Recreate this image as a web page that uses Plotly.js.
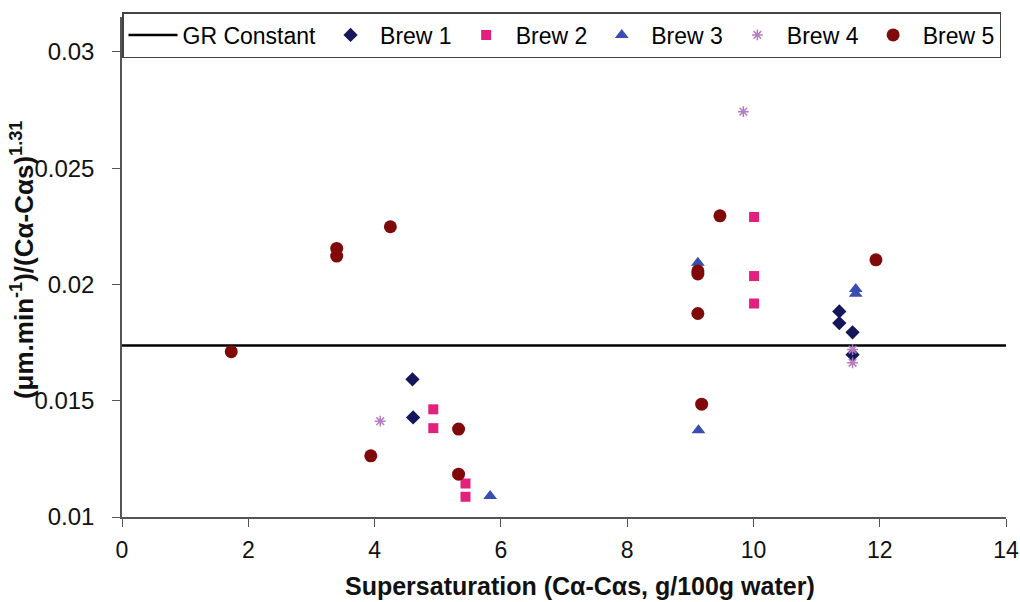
<!DOCTYPE html>
<html>
<head>
<meta charset="utf-8">
<script src="https://cdn.plot.ly/plotly-3.0.1.min.js"></script>
<style>html,body{margin:0;padding:0;background:#fff;}#chart{width:1020px;height:602px;}</style>
</head>
<body>
<div id="chart"></div>
<script>
// GR constant line
const grX = [0, 14];
const grY = [0.01737, 0.01737];

// Brew 1
const brew1X = [4.60, 4.61, 11.36, 11.36, 11.57, 11.57];
const brew1Y = [0.01592, 0.01428, 0.01884, 0.01834, 0.01794, 0.01698];

// Brew 2
const brew2X = [4.93, 4.93, 5.44, 5.44, 10.01, 10.01, 10.01];
const brew2Y = [0.01463, 0.01382, 0.01144, 0.01087, 0.0229, 0.02036, 0.01918];

// Brew 3
const brew3X = [5.83, 9.12, 9.13, 11.62, 11.62];
const brew3Y = [0.0109, 0.02093, 0.01373, 0.0198, 0.0196];

// Brew 4
const brew4X = [4.09, 9.84, 11.57, 11.57];
const brew4Y = [0.01412, 0.02743, 0.0172, 0.01663];

// Brew 5
const brew5X = [1.73, 3.40, 3.40, 4.25, 3.94, 5.33, 5.33, 9.47, 9.12, 9.12, 9.12, 9.18, 11.94];
const brew5Y = [0.01711, 0.02155, 0.02122, 0.02248, 0.01263, 0.01378, 0.01184, 0.02295, 0.02058, 0.02045, 0.01875, 0.01485, 0.02106];

const xTicks = [0, 2, 4, 6, 8, 10, 12, 14];
const yTicks = [0.01, 0.015, 0.02, 0.025, 0.03];
const yTickText = ['0.01', '0.015', '0.02', '0.025', '0.03'];

const xTitle = 'Supersaturation (Cα-Cαs, g/100g water)';
const yTitle = '(μm.min<sup>-1</sup>)/(Cα-Cαs)<sup>1.31</sup>';

const traces = [
  {x: grX, y: grY, mode: 'lines', name: 'GR Constant', line: {color: '#000', width: 2.5}},
  {x: brew1X, y: brew1Y, mode: 'markers', name: 'Brew 1', marker: {symbol: 'diamond', size: 11, color: '#16165c'}},
  {x: brew2X, y: brew2Y, mode: 'markers', name: 'Brew 2', marker: {symbol: 'square', size: 10, color: '#e3217c'}},
  {x: brew3X, y: brew3Y, mode: 'markers', name: 'Brew 3', marker: {symbol: 'triangle-up', size: 12, color: '#3a4db0'}},
  {x: brew4X, y: brew4Y, mode: 'markers', name: 'Brew 4', marker: {symbol: 'asterisk-open', size: 9, color: '#b57cc4', line: {color: '#b57cc4', width: 1.5}}},
  {x: brew5X, y: brew5Y, mode: 'markers', name: 'Brew 5', marker: {symbol: 'circle', size: 13, color: '#800a0a'}}
];

const layout = {
  width: 1020, height: 602,
  margin: {l: 122, r: 14, t: 15, b: 85},
  paper_bgcolor: '#fff', plot_bgcolor: '#fff',
  font: {family: 'Liberation Sans, Arial, sans-serif', color: '#111', size: 23},
  showlegend: true,
  legend: {
    orientation: 'h', x: 0, xanchor: 'left', y: 1.01, yanchor: 'top',
    bgcolor: '#fff', bordercolor: '#444', borderwidth: 1.5,
    font: {size: 23, color: '#000'}, itemwidth: 49
  },
  xaxis: {
    range: [0, 14], tickvals: xTicks, showgrid: false, zeroline: false,
    showline: true, linecolor: '#555', linewidth: 1.5,
    ticks: 'outside', ticklen: 8, tickcolor: '#555',
    ticklabelstandoff: 4,
    tickfont: {size: 23}
  },
  yaxis: {
    range: [0.01, 0.0315], tickvals: yTicks, ticktext: yTickText, showgrid: false, zeroline: false,
    showline: true, linecolor: '#555', linewidth: 1.5,
    ticks: 'outside', ticklen: 8, tickcolor: '#555',
    ticklabelstandoff: 13,
    tickfont: {size: 24}
  },
  annotations: [
    {text: xTitle, xref: 'paper', yref: 'paper', x: 0.518, y: -0.137, xanchor: 'center', yanchor: 'middle',
     showarrow: false, font: {size: 25, weight: 'bold', color: '#111'}},
    {text: yTitle, xref: 'paper', yref: 'paper', x: -0.113, y: 0.514, xanchor: 'center', yanchor: 'middle',
     textangle: -90, showarrow: false, font: {size: 26, weight: 'bold', color: '#111'}}
  ]
};

Plotly.newPlot('chart', traces, layout, {displayModeBar: false});
</script>
</body>
</html>
